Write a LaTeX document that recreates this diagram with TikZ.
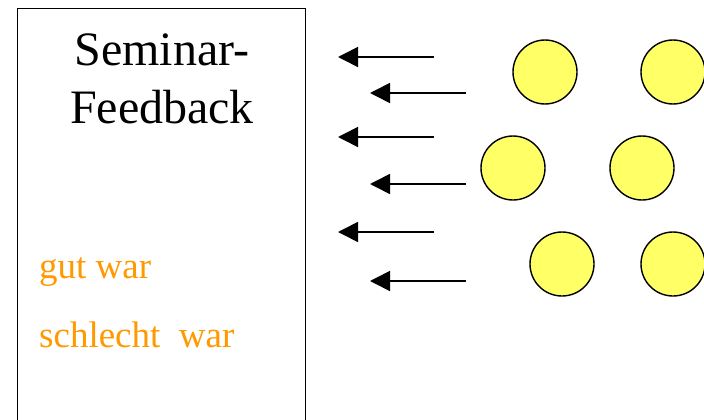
\documentclass[tikz,border=0pt]{standalone}
\usepackage{fontspec}
\setmainfont{Liberation Serif}
\usetikzlibrary{arrows.meta}
\definecolor{lborange}{HTML}{FF9900}
\definecolor{ballyellow}{HTML}{FFFF66}
\tikzset{
  ball/.style={circle, draw=black, line width=1.4pt, fill=ballyellow, minimum size=64pt, inner sep=0pt},
  arr/.style={line width=1.6pt, -{Triangle[length=20pt,width=20pt]}},
  title/.style={anchor=base, font=\fontsize{48}{57}\selectfont, inner sep=0pt},
  note/.style={anchor=base west, text=lborange, font=\fontsize{37}{44}\selectfont, inner sep=0pt}
}
\begin{document}
\begin{tikzpicture}[x=1pt,y=-1pt]
\useasboundingbox (0,0) rectangle (704,420);
\begin{scope}
\clip (0,0) rectangle (704,420);
\draw[line width=1pt] (17,9) rectangle (305,440);
\node[ball] (c1) at (545,72) {};
\node[ball] (c2) at (673,72) {};
\node[ball] (c3) at (513,168) {};
\node[ball] (c4) at (642,168) {};
\node[ball] (c5) at (562,264) {};
\node[ball] (c6) at (673,264) {};
\end{scope}
\node[title] (t1) at (162,66) {Seminar-};
\node[title] (t2) at (162,123) {Feedback};
\node[note] (n1) at (39,278) {gut war};
\node[note] (n2) at (39,347) {schlecht\ \ war};
\coordinate (a1s) at (434,57);  \coordinate (a1e) at (338,57);
\coordinate (a2s) at (466,93);  \coordinate (a2e) at (370,93);
\coordinate (a3s) at (434,137); \coordinate (a3e) at (338,137);
\coordinate (a4s) at (466,184); \coordinate (a4e) at (370,184);
\coordinate (a5s) at (434,232); \coordinate (a5e) at (338,232);
\coordinate (a6s) at (466,281); \coordinate (a6e) at (370,281);
\draw[arr] (a1s) -- (a1e);
\draw[arr] (a2s) -- (a2e);
\draw[arr] (a3s) -- (a3e);
\draw[arr] (a4s) -- (a4e);
\draw[arr] (a5s) -- (a5e);
\draw[arr] (a6s) -- (a6e);
\end{tikzpicture}
\end{document}
